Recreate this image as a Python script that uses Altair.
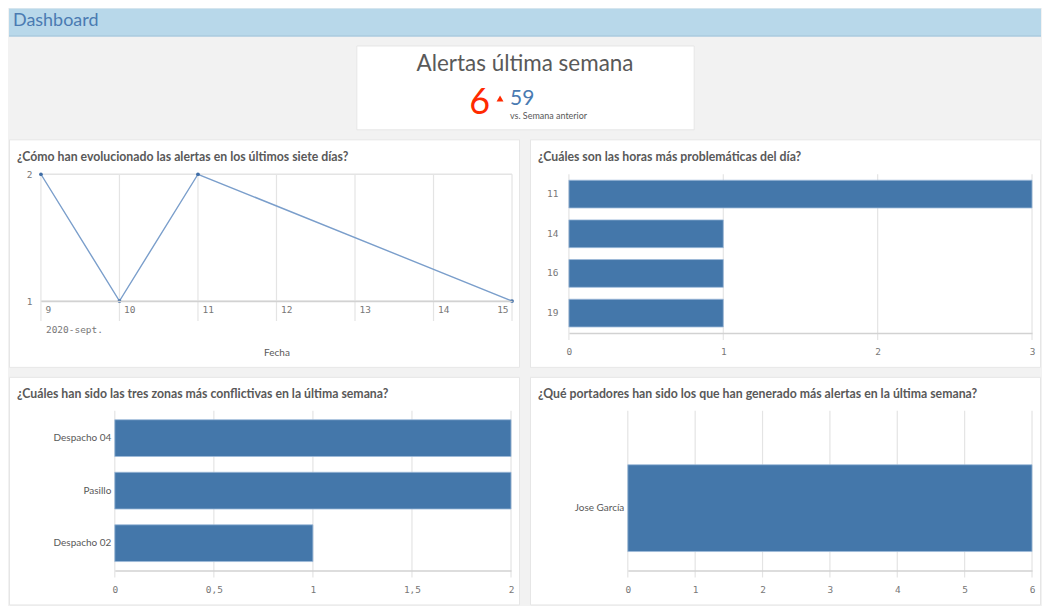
import altair as alt
import pandas as pd

# ---------------- data ----------------
header_title = "Dashboard"

kpi_title = "Alertas última semana"
kpi_current = [6]
kpi_previous = [59]
kpi_subtitle = "vs. Semana anterior"

t1 = "¿Cómo han evolucionado las alertas en los últimos siete días?"
line_dates = ["2020-09-09", "2020-09-10", "2020-09-11", "2020-09-15"]
line_alerts = [2, 1, 2, 1]
day_ticks = ["2020-09-09", "2020-09-10", "2020-09-11", "2020-09-12",
             "2020-09-13", "2020-09-14", "2020-09-15"]
alert_ticks = [1, 2]
month_label = ["2020-sept."]

t2 = "¿Cuáles son las horas más problemáticas del día?"
hours = ["11", "14", "16", "19"]
hour_counts = [3, 1, 1, 1]
hour_ticks = [0, 1, 2, 3]

t3 = "¿Cuáles han sido las tres zonas más conflictivas en la última semana?"
zones = ["Despacho 04", "Pasillo", "Despacho 02"]
zone_counts = [2, 2, 1]
zone_ticks = [0, 0.5, 1, 1.5, 2]

t4 = "¿Qué portadores han sido los que han generado más alertas en la última semana?"
carriers = ["Jose García"]
carrier_counts = [6]
carrier_ticks = [0, 1, 2, 3, 4, 5, 6]

# ---------------- style ----------------
BG = "#f2f2f2"
GRID = "#e4e4e4"
AXISLINE = "#d2d2d2"
TXT = "#595959"
LBL = "#777777"
BAR = "#4477aa"
BAR_EDGE = "#9dbad9"
CARD_EDGE = "#e6e6e6"
MONO = "DejaVu Sans Mono"
SANS = "Lato"
FULL_W = 1034
CW, CH = 512, 229   # card size


def one(**kw):
    return pd.DataFrame({k: [v] for k, v in kw.items()})


def card():
    return alt.Chart(one(c=0)).mark_rect(
        color="white", stroke=CARD_EDGE, strokeWidth=1).encode(
        x=alt.value(0.5), x2=alt.value(CW - 0.5), y=alt.value(0.5), y2=alt.value(CH - 0.5))


def title_text(txt, y):
    return alt.Chart(one(t=txt)).mark_text(
        align="left", baseline="middle", font=SANS, fontWeight="bold",
        fontSize=12.3, color=TXT).encode(
        x=alt.value(8), y=alt.value(y), text="t:N")


def bar_panel(title, cats, vals, ticks, L, W, T, H, label_pad,
              pin, pout, align=0.5, comma=False, mono_cats=False):
    B = CH - T - H
    df = pd.DataFrame({"cat": cats, "value": vals})
    gdf = pd.DataFrame({"value": ticks})
    xkw = dict(
        values=ticks, grid=False, ticks=False, domain=True, offset=-B,
        domainColor=AXISLINE, domainWidth=1.5, labelFont=MONO, labelFontSize=9.5,
        labelColor=LBL, labelPadding=14, labelFlush=False, labelOverlap=False,
        title=None, zindex=1)
    if comma:
        xkw["labelExpr"] = "replace(format(datum.value, ''), '.', ',')"
    X = alt.X("value:Q",
              scale=alt.Scale(domain=[ticks[0], ticks[-1]], nice=False, range=[L, L + W]),
              axis=alt.Axis(**xkw))
    ykw = dict(title=None, ticks=False, domain=False, grid=False, offset=-L,
               labelPadding=label_pad, labelFont=SANS, labelFontSize=10,
               labelColor=TXT, zindex=1)
    if mono_cats:
        ykw.update(labelFont=MONO, labelFontSize=9.5, labelColor=LBL)
    grid = alt.Chart(gdf).mark_rule(color=GRID, strokeWidth=1.2).encode(
        x=X, y=alt.value(T), y2=alt.value(T + H + 7))
    bars = alt.Chart(df).mark_bar(color=BAR, stroke=BAR_EDGE, strokeWidth=0.8).encode(
        x=X,
        y=alt.Y("cat:N", sort=None,
                scale=alt.Scale(paddingInner=pin, paddingOuter=pout, align=align,
                                range=[T, T + H]),
                axis=alt.Axis(**ykw)))
    return alt.layer(card(), grid, bars,
                     title_text(title, 17.5)).properties(width=CW, height=CH)


# ---------------- header ----------------
header = alt.layer(
    alt.Chart(one(c=0)).mark_rect(color="#b8d8ea").encode(
        x=alt.value(0), x2=alt.value(FULL_W), y=alt.value(0), y2=alt.value(28)),
    alt.Chart(one(c=0)).mark_rule(color="#a3c4d9", strokeWidth=1).encode(
        x=alt.value(0), x2=alt.value(FULL_W), y=alt.value(27.5)),
    alt.Chart(one(t=header_title)).mark_text(
        align="left", baseline="middle", font=SANS, fontSize=18,
        color="#4a7bb2").encode(x=alt.value(4), y=alt.value(12), text="t:N"),
).properties(width=FULL_W, height=28)

# ---------------- KPI ----------------
kpi = alt.layer(
    alt.Chart(one(c=0)).mark_rect(color="white", stroke=CARD_EDGE, strokeWidth=1).encode(
        x=alt.value(348.5), x2=alt.value(686.5), y=alt.value(0.5), y2=alt.value(84.5)),
    alt.Chart(one(t=kpi_title)).mark_text(
        align="center", baseline="alphabetic", font=SANS, fontSize=22.5,
        color=TXT).encode(x=alt.value(517), y=alt.value(26), text="t:N"),
    alt.Chart(pd.DataFrame({"v": kpi_current})).mark_text(
        align="right", baseline="alphabetic", font=SANS, fontSize=36,
        color="#ff2a00").encode(x=alt.value(482), y=alt.value(69), text="v:Q"),
    alt.Chart(one(c=0)).mark_point(
        shape="triangle-up", filled=True, size=48, color="#ff2a00", opacity=1).encode(
        x=alt.value(492), y=alt.value(53)),
    alt.Chart(pd.DataFrame({"v": kpi_previous})).mark_text(
        align="left", baseline="alphabetic", font=SANS, fontSize=21,
        color="#4a7bb2").encode(x=alt.value(502), y=alt.value(60), text="v:Q"),
    alt.Chart(one(t=kpi_subtitle)).mark_text(
        align="left", baseline="middle", font=SANS, fontSize=9,
        color=TXT).encode(x=alt.value(502), y=alt.value(70.5), text="t:N"),
).properties(width=FULL_W, height=85)

# ---------------- panel 1: line ----------------
L1, W1, T1, H1 = 32, 472, 35, 127
B1 = CH - T1 - H1
ldf = pd.DataFrame({"date": line_dates, "n": line_alerts})
xaxis1 = alt.Axis(
    values=[alt.DateTime(year=int(d[:4]), month=int(d[5:7]), date=int(d[8:]), utc=True)
            for d in day_ticks],
    grid=False, ticks=False, domain=True, domainColor=AXISLINE, domainWidth=1.5,
    offset=-B1,
    labelExpr="utcdate(datum.value)",
    labelAlign={"condition": {"test": "datum.index == 1", "value": "right"},
                "value": "left"},
    labelOffset={"condition": {"test": "datum.index == 1", "value": -4},
                 "value": 4},
    labelPadding=4, labelBaseline="top", labelFlush=False, labelOverlap=False,
    labelFont=MONO, labelFontSize=9.5, labelColor=LBL,
    title="Fecha", titleY=52, titleBaseline="middle", titleFont=SANS,
    titleFontSize=10, titleFontWeight="normal", titleColor=TXT, zindex=1)
X1 = alt.X("date:T", scale=alt.Scale(type="utc", nice=False, range=[L1, L1 + W1]),
           axis=xaxis1)
Y1 = alt.Y("n:Q", scale=alt.Scale(domain=[alert_ticks[0], alert_ticks[-1]], nice=False,
                                  zero=False, range=[T1 + H1, T1]),
           axis=alt.Axis(values=alert_ticks, format="d", grid=False, ticks=False,
                         domain=False, offset=-L1, labelPadding=9, labelFont=MONO,
                         labelFontSize=9.5, labelColor=LBL, title=None, zindex=1))
vgrid1 = alt.Chart(pd.DataFrame({"date": day_ticks})).mark_rule(
    color=GRID, strokeWidth=1.2).encode(x=X1, y=alt.value(T1), y2=alt.value(T1 + H1 + 20))
hgrid1 = alt.Chart(pd.DataFrame({"n": alert_ticks})).mark_rule(
    color=GRID, strokeWidth=1.5).encode(y=Y1, x=alt.value(L1), x2=alt.value(L1 + W1))
line1 = alt.Chart(ldf).mark_line(color="#7a9ecb", strokeWidth=1.4).encode(x=X1, y=Y1)
pts1 = alt.Chart(ldf).mark_circle(color="#3f6da6", size=14, opacity=1).encode(x=X1, y=Y1)
month1 = alt.Chart(pd.DataFrame({"date": [day_ticks[0]], "t": month_label})).mark_text(
    align="left", baseline="middle", dx=5, font=MONO, fontSize=9.5, color=LBL).encode(
    x=X1, y=alt.value(T1 + H1 + 29), text="t:N")
panel1 = alt.layer(card(), vgrid1, hgrid1, line1, pts1, month1,
                   title_text(t1, 18)).properties(width=CW, height=CH)

# ---------------- panels 2-4: bars ----------------
panel2 = bar_panel(t2, hours, hour_counts, hour_ticks, 39, 464, 35, 159,
                   label_pad=11, pin=0.3, pout=0.15, mono_cats=True)
panel3 = bar_panel(t3, zones, zone_counts, zone_ticks, 106, 397, 34, 160,
                   label_pad=4, pin=0.3, pout=0.17, comma=True)
panel4 = bar_panel(t4, carriers, carrier_counts, carrier_ticks, 98, 405, 34, 160,
                   label_pad=4, pin=0.0, pout=0.42, align=0.74)

row1 = alt.hconcat(panel1, panel2, spacing=10)
row2 = alt.hconcat(panel3, panel4, spacing=10)

chart = alt.vconcat(header, kpi, row1, row2, spacing=9).properties(
    padding=0, background=BG
).configure_view(stroke=None)

chart.save("out.html", embed_options={"renderer": "svg", "actions": False})
